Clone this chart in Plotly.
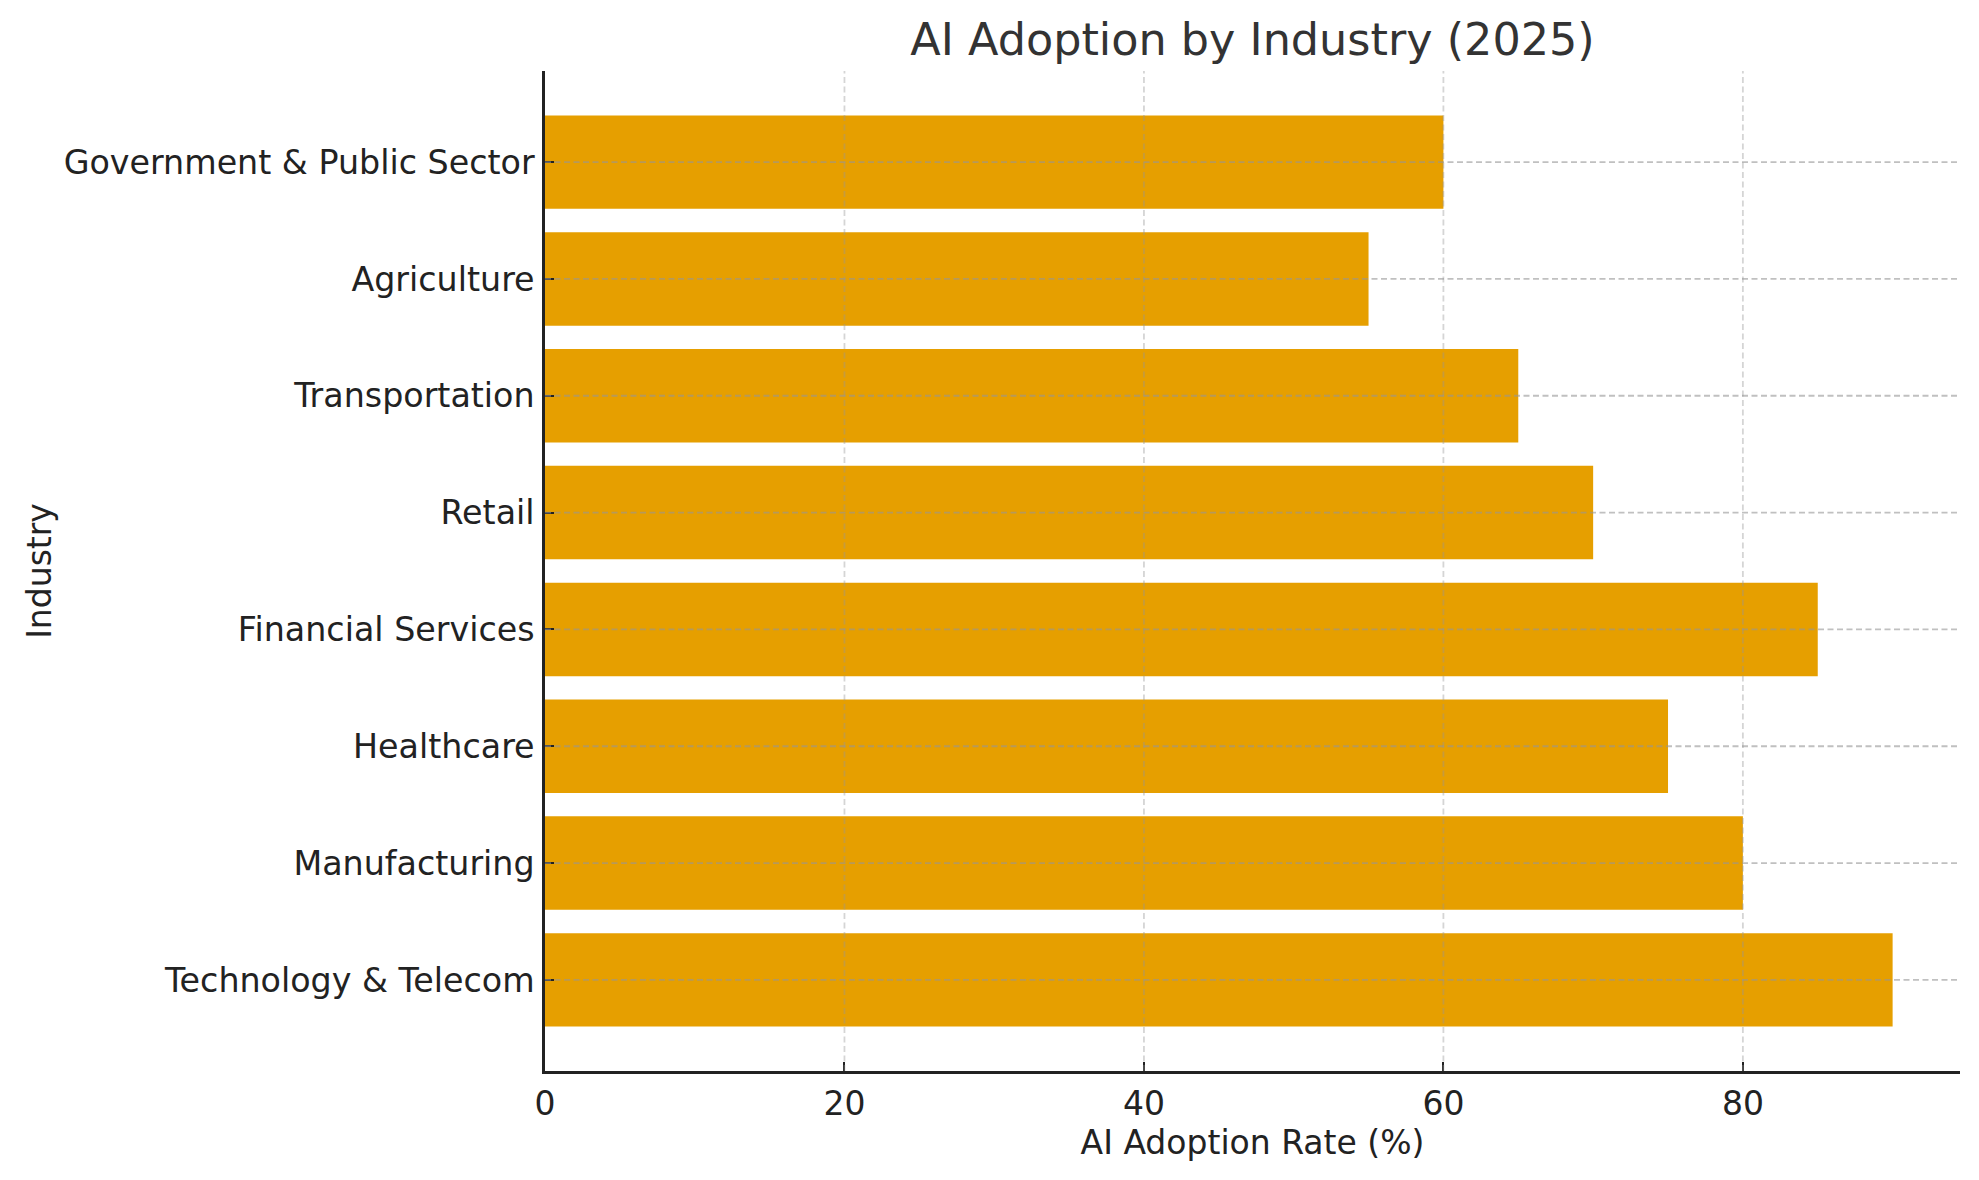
import plotly.graph_objects as go

industries = [
    "Technology & Telecom",
    "Manufacturing",
    "Healthcare",
    "Financial Services",
    "Retail",
    "Transportation",
    "Agriculture",
    "Government & Public Sector",
]
adoption_rates = [90, 80, 75, 85, 70, 65, 55, 60]
x_ticks = [0, 20, 40, 60, 80]

BAR_COLOR = "#E69F00"
TEXT_COLOR = "#222222"
FONT = "DejaVu Sans"

W, H = 1971, 1172  # page body margin of 8px accounted for

fig = go.Figure()
fig.add_trace(
    go.Bar(
        x=adoption_rates,
        y=industries,
        orientation="h",
        width=0.8,
        marker=dict(color=BAR_COLOR, line=dict(width=0)),
        showlegend=False,
    )
)

n = len(industries)
shapes = []
for v in x_ticks[1:]:
    shapes.append(dict(type="line", xref="x", yref="paper", x0=v, x1=v, y0=0, y1=1,
                       line=dict(color="rgba(150,150,150,0.4)", width=1.8, dash="6px,3.5px"),
                       layer="above"))
for i in range(n):
    shapes.append(dict(type="line", xref="paper", yref="y", x0=0, x1=1, y0=i, y1=i,
                       line=dict(color="rgba(150,150,150,0.6)", width=1.8, dash="6px,3.5px"),
                       layer="above"))

fig.update_layout(
    width=W,
    height=H,
    margin=dict(l=537, r=19, t=63, b=109, autoexpand=False),
    paper_bgcolor="white",
    plot_bgcolor="white",
    font=dict(family=FONT, size=33, color=TEXT_COLOR),
    title=dict(
        text="AI Adoption by Industry (2025)",
        x=0.5, xref="paper", xanchor="center",
        y=1 - 31 / H, yref="container", yanchor="middle",
        font=dict(family=FONT, size=44.5, color="#333333"),
    ),
    shapes=shapes,
    bargap=0.2,
)

fig.update_xaxes(
    range=[0, 94.5],
    tickvals=x_ticks,
    ticktext=[str(v) for v in x_ticks],
    showgrid=False,
    zeroline=False,
    showline=True,
    linecolor=TEXT_COLOR,
    linewidth=2.5,
    ticks="inside",
    ticklen=9,
    tickwidth=2.2,
    tickcolor=TEXT_COLOR,
    ticklabelstandoff=2,
    tickfont=dict(family=FONT, size=33, color=TEXT_COLOR),
    title=dict(text="AI Adoption Rate (%)", standoff=9,
               font=dict(family=FONT, size=33, color=TEXT_COLOR)),
    automargin=False,
)
fig.update_yaxes(
    type="category",
    categoryorder="array",
    categoryarray=industries,
    range=[-0.78, n - 1 + 0.78],
    showgrid=False,
    zeroline=False,
    showline=True,
    linecolor=TEXT_COLOR,
    linewidth=2.5,
    ticks="inside",
    ticklen=9,
    tickwidth=2.2,
    tickcolor=TEXT_COLOR,
    ticklabelstandoff=1,
    tickfont=dict(family=FONT, size=33.3, color=TEXT_COLOR),
    title=dict(text="Industry", standoff=3,
               font=dict(family=FONT, size=33, color=TEXT_COLOR)),
    automargin=False,
)

fig.write_html("out.html")
